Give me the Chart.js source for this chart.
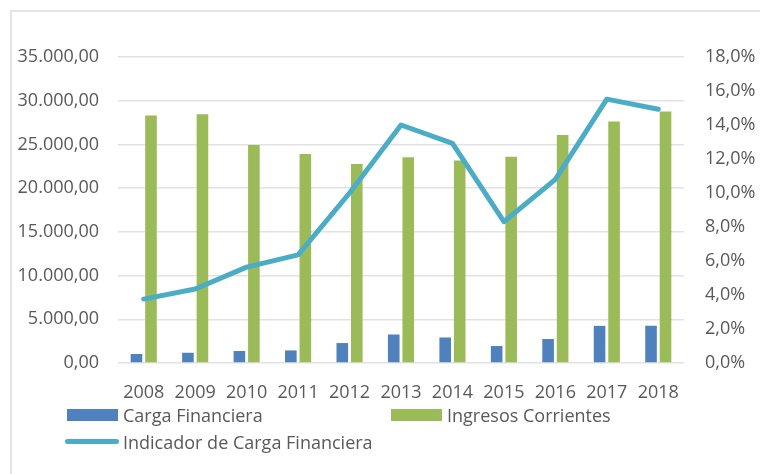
<!DOCTYPE html>
<html>
<head>
<meta charset="utf-8">
<script src="https://cdn.jsdelivr.net/npm/chart.js@4.4.1/dist/chart.umd.min.js"></script>
<style>
  html, body { margin: 0; padding: 0; background: #fff; }
  #wrap { position: relative; width: 760px; height: 474px; overflow: hidden; font-family: "Open Sans", sans-serif; color: #595959; }
  #frame { position: absolute; left: 10px; top: 10px; width: 780px; height: 500px; border: 2px solid #e3e3e3; box-sizing: border-box; }
  canvas { position: absolute; left: 0; top: 0; }
  .lg { position: absolute; font-size: 18px; line-height: 24px; white-space: nowrap; }
  .box { position: absolute; height: 12px; width: 51px; }
  .ln { position: absolute; height: 5px; width: 54px; border-radius: 3px; background: #4BACC6; }
</style>
</head>
<body>
<div id="wrap">
  <div id="frame"></div>
  <canvas id="c" width="760" height="474"></canvas>
  <div class="box" style="left:67px;top:409px;background:#4F81BD"></div>
  <div class="lg" style="left:123px;top:403px">Carga Financiera</div>
  <div class="box" style="left:391px;top:409px;background:#9BBB59"></div>
  <div class="lg" style="left:447px;top:403px">Ingresos Corrientes</div>
  <div class="ln" style="left:65px;top:439px"></div>
  <div class="lg" style="left:123px;top:430px">Indicador de Carga Financiera</div>
</div>
<script>
const years = ["2008","2009","2010","2011","2012","2013","2014","2015","2016","2017","2018"];
const cargaFinanciera = [1030, 1170, 1370, 1440, 2280, 3260, 2920, 1940, 2740, 4250, 4260];
const ingresosCorrientes = [28310, 28460, 24940, 23900, 22770, 23520, 23150, 23600, 26080, 27630, 28770];
const indicadorCarga = [3.76, 4.35, 5.64, 6.36, 10.0, 14.0, 12.92, 8.31, 10.8, 15.52, 14.93];

const FONT = { family: "'Open Sans', sans-serif", size: 18 };
const TXT = "#595959";

function fmtNum(v) {
  const s = Math.round(v).toString().replace(/\B(?=(\d{3})+(?!\d))/g, ".");
  return s + ",00";
}

new Chart(document.getElementById("c"), {
  data: {
    labels: years,
    datasets: [
      {
        type: "line", label: "Indicador de Carga Financiera", data: indicadorCarga,
        yAxisID: "y2", borderColor: "#4BACC6", borderWidth: 5, pointRadius: 0,
        borderCapStyle: "round", borderJoinStyle: "round", tension: 0, order: 0, fill: false
      },
      {
        type: "bar", label: "Carga Financiera", data: cargaFinanciera, yAxisID: "y",
        backgroundColor: "#4F81BD", categoryPercentage: 0.564, barPercentage: 0.8, order: 1
      },
      {
        type: "bar", label: "Ingresos Corrientes", data: ingresosCorrientes, yAxisID: "y",
        backgroundColor: "#9BBB59", categoryPercentage: 0.564, barPercentage: 0.8, order: 1
      }
    ]
  },
  options: {
    responsive: false, animation: false, devicePixelRatio: 1,
    layout: { padding: { top: 57, bottom: 71, left: 0, right: 0 } },
    plugins: { legend: { display: false }, tooltip: { enabled: false } },
    scales: {
      x: {
        grid: { display: false }, border: { display: false },
        ticks: { color: TXT, font: FONT, padding: 11, maxRotation: 0, autoSkip: false },
        afterFit: s => { s.height = 40; }
      },
      y: {
        position: "left", min: 0, max: 35000,
        grid: { color: "#e2e2e2", lineWidth: 1.5, drawTicks: false }, border: { display: false },
        ticks: { stepSize: 5000, color: TXT, font: FONT, padding: 19, callback: v => fmtNum(v) },
        afterFit: s => { s.width = 118; }
      },
      y2: {
        position: "right", min: 0, max: 18,
        grid: { display: false, drawTicks: false }, border: { display: false },
        ticks: { stepSize: 2, color: TXT, font: FONT, padding: 21, callback: v => v.toFixed(1).replace(".", ",") + "%" },
        afterFit: s => { s.width = 76; }
      }
    }
  }
});
</script>
</body>
</html>
